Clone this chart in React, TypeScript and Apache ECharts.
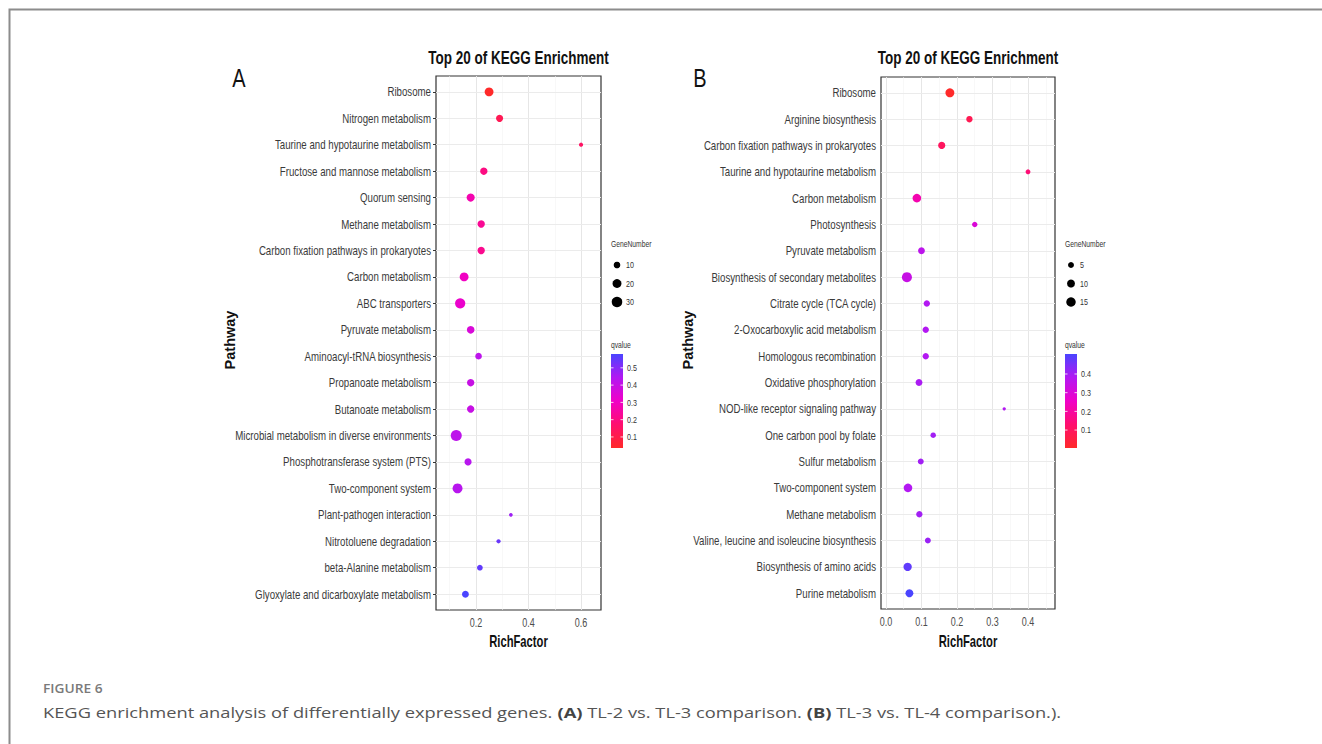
import React, { useEffect, useRef } from 'react';
import * as echarts from 'echarts';

// Panel A: TL-2 vs. TL-3
const pathwaysA = [
  'Ribosome',
  'Nitrogen metabolism',
  'Taurine and hypotaurine metabolism',
  'Fructose and mannose metabolism',
  'Quorum sensing',
  'Methane metabolism',
  'Carbon fixation pathways in prokaryotes',
  'Carbon metabolism',
  'ABC transporters',
  'Pyruvate metabolism',
  'Aminoacyl-tRNA biosynthesis',
  'Propanoate metabolism',
  'Butanoate metabolism',
  'Microbial metabolism in diverse environments',
  'Phosphotransferase system (PTS)',
  'Two-component system',
  'Plant-pathogen interaction',
  'Nitrotoluene degradation',
  'beta-Alanine metabolism',
  'Glyoxylate and dicarboxylate metabolism',
];
const richFactorA = [0.25, 0.29, 0.6, 0.23, 0.18, 0.22, 0.22, 0.155, 0.14, 0.18, 0.21, 0.18, 0.18, 0.125, 0.17, 0.13, 0.333, 0.286, 0.215, 0.16];
const geneNumberA = [20, 12, 3, 13, 16, 13, 13, 20, 28, 14, 10, 13, 13, 33, 12, 26, 2, 3, 7, 11];
const qvalueA = [0.036, 0.12, 0.15, 0.2, 0.27, 0.23, 0.22, 0.3, 0.32, 0.36, 0.42, 0.4, 0.4, 0.42, 0.43, 0.43, 0.47, 0.54, 0.55, 0.58];

// Panel B: TL-3 vs. TL-4
const pathwaysB = [
  'Ribosome',
  'Arginine biosynthesis',
  'Carbon fixation pathways in prokaryotes',
  'Taurine and hypotaurine metabolism',
  'Carbon metabolism',
  'Photosynthesis',
  'Pyruvate metabolism',
  'Biosynthesis of secondary metabolites',
  'Citrate cycle (TCA cycle)',
  '2-Oxocarboxylic acid metabolism',
  'Homologous recombination',
  'Oxidative phosphorylation',
  'NOD-like receptor signaling pathway',
  'One carbon pool by folate',
  'Sulfur metabolism',
  'Two-component system',
  'Methane metabolism',
  'Valine, leucine and isoleucine biosynthesis',
  'Biosynthesis of amino acids',
  'Purine metabolism',
];
const richFactorB = [0.18, 0.235, 0.157, 0.4, 0.087, 0.25, 0.1, 0.059, 0.115, 0.112, 0.112, 0.093, 0.333, 0.133, 0.098, 0.062, 0.094, 0.118, 0.061, 0.066];
const geneNumberB = [13, 6, 8, 3, 12, 4, 7, 17, 6, 6, 6, 7, 1, 4, 5, 12, 6, 5, 11, 10];
const qvalueB = [0.004, 0.08, 0.1, 0.14, 0.22, 0.3, 0.36, 0.34, 0.38, 0.38, 0.38, 0.39, 0.38, 0.4, 0.4, 0.38, 0.4, 0.41, 0.48, 0.507];

// Axis ticks and legend breaks
const xTicksA = [0.2, 0.4, 0.6];
const xMinorA = [0.1, 0.3, 0.5];
const xTicksB = [0.0, 0.1, 0.2, 0.3, 0.4];
const xMinorB = [0.05, 0.15, 0.25, 0.35, 0.45];
const sizeBreaksA = [10, 20, 30];
const sizeBreaksB = [5, 10, 15];
const qBreaksA = [0.1, 0.2, 0.3, 0.4, 0.5];
const qBreaksB = [0.1, 0.2, 0.3, 0.4];

const SANS = '"Liberation Sans", Arial, sans-serif';
const CAPTION = '"Open Sans", "Noto Sans", sans-serif';
// horizontal squeeze giving the narrow look of the plot lettering
const NARROW_X = 0.75;
const CAPTION_X = 1.22;

// low q (red) -> high q (blue)
const GRADIENT = ['#ff2a2a', '#ff0f6e', '#f000c8', '#b218f2', '#4a44ff'];

function makeSizer(nums: number[], dMin: number, dMax: number) {
  const lo = Math.sqrt(Math.min(...nums));
  const hi = Math.sqrt(Math.max(...nums));
  return (n: number) => dMin + (dMax - dMin) * (Math.sqrt(n) - lo) / (hi - lo);
}

type Panel = {
  pathways: string[];
  rich: number[];
  genes: number[];
  q: number[];
  xMin: number;
  xMax: number;
  xTicks: number[];
  xMinor: number[];
  grid: { left: number; top: number; width: number; height: number };
  sizer: (n: number) => number;
  sizeBreaks: number[];
  qBreaks: number[];
  legendX: number;
  letter: string;
  letterX: number;
  pathwayX: number;
};

function narrowText(x: number, y: number, text: string, font: string, align: string, fill = '#111', sx = NARROW_X) {
  return {
    type: 'text', silent: true, x, y, scaleX: sx,
    style: { text, font, fill, align, verticalAlign: 'middle' },
  };
}

export default function App() {
  const ref = useRef<HTMLDivElement>(null);

  useEffect(() => {
    if (!ref.current) return;
    const chart = echarts.init(ref.current, null, { renderer: 'svg' });

    const panels: Panel[] = [
      {
        pathways: pathwaysA, rich: richFactorA, genes: geneNumberA, q: qvalueA,
        xMin: 0.048, xMax: 0.676, xTicks: xTicksA, xMinor: xMinorA,
        grid: { left: 436, top: 76, width: 165, height: 534 },
        sizer: makeSizer(geneNumberA, 3.7, 11),
        sizeBreaks: sizeBreaksA, qBreaks: qBreaksA,
        legendX: 611, letter: 'A', letterX: 239, pathwayX: 230,
      },
      {
        pathways: pathwaysB, rich: richFactorB, genes: geneNumberB, q: qvalueB,
        xMin: -0.014, xMax: 0.476, xTicks: xTicksB, xMinor: xMinorB,
        grid: { left: 881, top: 77, width: 174, height: 532 },
        sizer: makeSizer(geneNumberB, 3.3, 10),
        sizeBreaks: sizeBreaksB, qBreaks: qBreaksB,
        legendX: 1065, letter: 'B', letterX: 700, pathwayX: 688,
      },
    ];

    const rows = pathwaysA.map((_, i) => i);
    const series: any[] = [];
    const xAxes: any[] = [];
    const yAxes: any[] = [];
    const grids: any[] = [];
    const visualMaps: any[] = [];

    panels.forEach((p, k) => {
      grids.push({
        ...p.grid, show: true, backgroundColor: '#ffffff',
        borderColor: '#333333', borderWidth: 1.2, containLabel: false,
      });
      xAxes.push({
        type: 'value', gridIndex: k, min: p.xMin, max: p.xMax,
        axisLine: { show: false },
        splitLine: { show: false },
        axisTick: { show: true, customValues: p.xTicks, length: 3, lineStyle: { color: '#333', width: 1 } },
        axisLabel: { show: false },
      });
      yAxes.push({
        type: 'value', gridIndex: k, min: -0.6, max: 19.6, inverse: true,
        axisLine: { show: false },
        splitLine: { show: false },
        axisTick: { show: true, customValues: rows, length: 3, lineStyle: { color: '#333', width: 1 } },
        axisLabel: { show: false },
      });

      visualMaps.push({
        type: 'continuous', show: false, seriesIndex: k, dimension: 3,
        min: Math.min(...p.q), max: Math.max(...p.q), inRange: { color: GRADIENT },
      });

      const gridLines = [
        ...p.xTicks.map((v) => ({ xAxis: v, lineStyle: { color: '#e6e6e6', width: 1, type: 'solid' } })),
        ...p.xMinor.filter((v) => v > p.xMin && v < p.xMax)
          .map((v) => ({ xAxis: v, lineStyle: { color: '#f3f3f3', width: 0.6, type: 'solid' } })),
        ...rows.map((r) => ({ yAxis: r, lineStyle: { color: '#ebebeb', width: 1, type: 'solid' } })),
      ];

      series.push({
        type: 'scatter', xAxisIndex: k, yAxisIndex: k,
        data: p.rich.map((x, i) => [x, i, p.genes[i], p.q[i]]),
        encode: { x: 0, y: 1 },
        symbol: 'circle',
        symbolSize: (val: number[]) => p.sizer(val[2]),
        itemStyle: { opacity: 1, borderWidth: 0 },
        z: 3,
        markLine: {
          silent: true, symbol: 'none', z: 1, animation: false,
          label: { show: false }, emphasis: { disabled: true },
          data: gridLines,
        },
      });
    });

    chart.setOption({
      animation: false,
      backgroundColor: '#ffffff',
      grid: grids,
      xAxis: xAxes,
      yAxis: yAxes,
      visualMap: visualMaps,
      series,
    });

    // Text layer, placed with the axes' own pixel mapping
    const graphics: any[] = [];
    graphics.push({
      type: 'polyline', silent: true,
      shape: { points: [[9.5, 744], [9.5, 9.5], [1322, 9.5]] },
      style: { stroke: '#8c8c8c', lineWidth: 2, fill: null },
    });

    panels.forEach((p, k) => {
      const g = p.grid;
      const cx = g.left + g.width / 2;
      const px = (x: number, y: number) => chart.convertToPixel({ gridIndex: k }, [x, y]) as number[];

      // category labels
      p.pathways.forEach((name, i) => {
        const [, y] = px(p.xMin, i);
        graphics.push(narrowText(g.left - 5, y, name, `normal 13px ${SANS}`, 'right', '#3a3a3a', 0.745));
      });
      // x tick labels
      p.xTicks.forEach((v) => {
        const [x] = px(v, 0);
        graphics.push(narrowText(x, g.top + g.height + 12, v.toFixed(1), `normal 12px ${SANS}`, 'center', '#4d4d4d'));
      });

      graphics.push(narrowText(p.letterX, 79, p.letter, `normal 25px ${SANS}`, 'center', '#111', 0.8));
      graphics.push(narrowText(cx, 58, 'Top 20 of KEGG Enrichment', `bold 18px ${SANS}`, 'center'));
      graphics.push(narrowText(cx, 641, 'RichFactor', `bold 17px ${SANS}`, 'center', '#111', 0.66));
      graphics.push({
        type: 'text', silent: true, x: p.pathwayX, y: g.top + g.height / 2 - 3, rotation: Math.PI / 2,
        style: { text: 'Pathway', font: `bold 14.5px ${SANS}`, fill: '#111', align: 'center', verticalAlign: 'middle' },
      });

      // GeneNumber legend
      const lx = p.legendX;
      graphics.push(narrowText(lx, 244, 'GeneNumber', `normal 9px ${SANS}`, 'left', '#333'));
      p.sizeBreaks.forEach((n, i) => {
        const y = 265 + i * 18.5;
        graphics.push({
          type: 'circle', silent: true,
          shape: { cx: lx + 6, cy: y, r: p.sizer(n) / 2 },
          style: { fill: '#000' },
        });
        graphics.push(narrowText(lx + 15, y, String(n), `normal 9.5px ${SANS}`, 'left', '#333'));
      });

      // qvalue colour bar
      const qMin = Math.min(...p.q);
      const qMax = Math.max(...p.q);
      const barTop = 354, barBottom = 448, barW = 12;
      graphics.push(narrowText(lx, 345, 'qvalue', `normal 9px ${SANS}`, 'left', '#333'));
      graphics.push({
        type: 'rect', silent: true,
        shape: { x: lx, y: barTop, width: barW, height: barBottom - barTop },
        style: {
          fill: {
            type: 'linear', x: 0, y: 1, x2: 0, y2: 0,
            colorStops: GRADIENT.map((c, i) => ({ offset: i / (GRADIENT.length - 1), color: c })),
          },
        },
      });
      p.qBreaks.forEach((v) => {
        const y = barBottom - (v - qMin) / (qMax - qMin) * (barBottom - barTop);
        graphics.push({
          type: 'line', silent: true, shape: { x1: lx, y1: y, x2: lx + 2.5, y2: y },
          style: { stroke: '#fff', lineWidth: 0.8 },
        });
        graphics.push({
          type: 'line', silent: true, shape: { x1: lx + barW - 2.5, y1: y, x2: lx + barW, y2: y },
          style: { stroke: '#fff', lineWidth: 0.8 },
        });
        graphics.push(narrowText(lx + 16, y, v.toFixed(1), `normal 9.5px ${SANS}`, 'left', '#333'));
      });
    });

    // figure caption
    graphics.push(narrowText(43, 688, 'FIGURE 6', `600 12.5px ${CAPTION}`, 'left', '#7a7a7a', 1.1));
    graphics.push({
      type: 'text', silent: true, x: 43, y: 712, scaleX: CAPTION_X,
      style: {
        text: 'KEGG enrichment analysis of differentially expressed genes. {b|(A)} TL-2 vs. TL-3 comparison. {b|(B)} TL-3 vs. TL-4 comparison.).',
        font: `normal 15px ${CAPTION}`, fill: '#555', align: 'left', verticalAlign: 'middle',
        rich: { b: { fontWeight: 'bold', fontSize: 15, fontFamily: CAPTION, fill: '#444' } },
      },
    });

    chart.setOption({ graphic: { elements: graphics } });

    return () => chart.dispose();
  }, []);

  return (
    <div
      ref={ref}
      style={{ position: 'absolute', left: 0, top: 0, width: 1322, height: 744, background: '#fff' }}
    />
  );
}
